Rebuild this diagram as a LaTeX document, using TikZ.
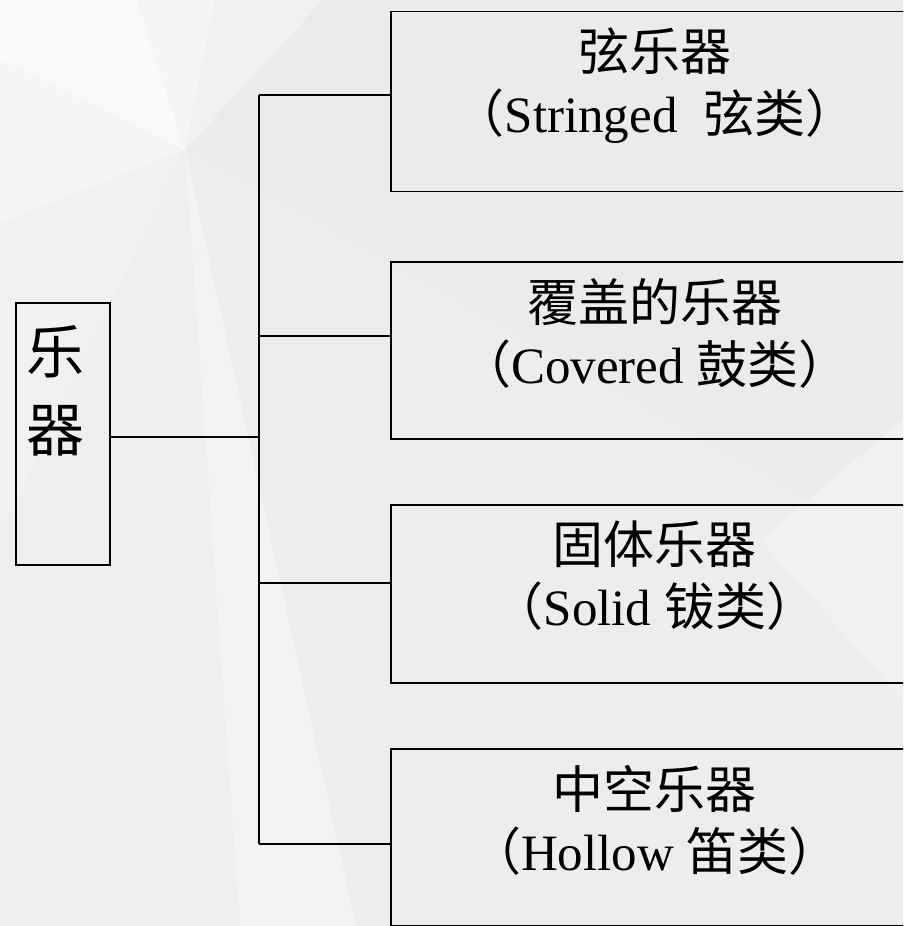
\documentclass[tikz,border=0pt]{standalone}
\usepackage{fontspec}
\setmainfont{Liberation Serif}
\newfontfamily\cjk{Noto Sans CJK SC}
\definecolor{bgbase}{HTML}{EFEFEF}
\definecolor{bgw1}{HTML}{F9F9F9}
\definecolor{bgw2}{HTML}{F5F5F5}
\definecolor{bgw3}{HTML}{F1F1F1}
\definecolor{bgg1}{HTML}{EBEBEB}
\definecolor{bgg2}{HTML}{EDEDED}
\definecolor{bgl}{HTML}{F3F3F3}
\begin{document}
\begin{tikzpicture}[x=1pt,y=-1pt,
  linkline/.style={line width=1.9pt,draw=black},
  catbox/.style={draw=black,line width=1.9pt,minimum width=528pt,minimum height=180pt,inner sep=0pt,anchor=north west},
  cattext/.style={align=center,inner sep=0pt,anchor=north,font=\fontsize{51}{62}\selectfont},
  rootbox/.style={draw=black,line width=1.9pt,minimum width=94pt,minimum height=262pt,inner sep=0pt,anchor=north west},
  roottext/.style={align=center,inner sep=0pt,anchor=north,font=\fontsize{58}{78}\selectfont\cjk}]
\useasboundingbox (0,0) rectangle (903,926);
\clip (0,0) rectangle (903,926);
% background
\fill[bgbase] (0,0) rectangle (903,926);
\coordinate (C) at (185,150);
\fill[bgw1] (C) -- (0,60) -- (0,0) -- (137,0) -- cycle;
\fill[bgw2] (C) -- (137,0) -- (215,0) -- cycle;
\fill[bgw3] (C) -- (215,0) -- (323,0) -- cycle;
\fill[bgg1] (C) -- (323,0) -- (903,0) -- (903,555) -- cycle;
\fill[bgw2] (C) -- (0,60) -- (0,223) -- cycle;
\fill[bgw3] (C) -- (0,223) -- (0,535) -- cycle;
\fill[bgbase] (C) -- (0,535) -- (0,926) -- (356,926) -- cycle;
\fill[bgg2] (C) -- (356,926) -- (903,926) -- (903,555) -- cycle;
\fill[bgl] (C) -- (240,926) -- (356,926) -- cycle;
\fill[bgw3] (903,420) -- (760,540) -- (903,700) -- cycle;
% root
\node[rootbox] (root) at (15,302) {};
\node[roottext] (roottxt) at (56,325) {乐\\器};
% categories
\node[catbox] (b1) at (390,10.5) {};
\node[catbox, minimum height=177pt] (b2) at (390,261) {};
\node[catbox, minimum height=178pt] (b3) at (390,504) {};
\node[catbox, minimum height=177pt] (b4) at (390,748) {};
\node[cattext] (t1) at ([yshift=-17pt]b1.north) {{\cjk 弦乐器}\\{\cjk （}Stringed\ \ {\cjk 弦类）}};
\node[cattext] (t2) at ([yshift=-17pt]b2.north) {{\cjk 覆盖的乐器}\\{\cjk （}Covered {\cjk 鼓类）}};
\node[cattext] (t3) at ([yshift=-17pt]b3.north) {{\cjk 固体乐器}\\{\cjk （}Solid {\cjk 钹类）}};
\node[cattext] (t4) at ([yshift=-17pt]b4.north) {{\cjk 中空乐器}\\{\cjk （}Hollow {\cjk 笛类）}};
% connectors
\coordinate (j0) at (259,437);
\coordinate (j1) at (259,95);
\coordinate (j2) at (259,336);
\coordinate (j3) at (259,583);
\coordinate (j4) at (259,844);
\draw[linkline] (root.east |- j0) -- (j0);
\draw[linkline] (j1) -- (j4);
\draw[linkline] (j1) -- (b1.west |- j1);
\draw[linkline] (j2) -- (b2.west |- j2);
\draw[linkline] (j3) -- (b3.west |- j3);
\draw[linkline] (j4) -- (b4.west |- j4);
\end{tikzpicture}
\end{document}
